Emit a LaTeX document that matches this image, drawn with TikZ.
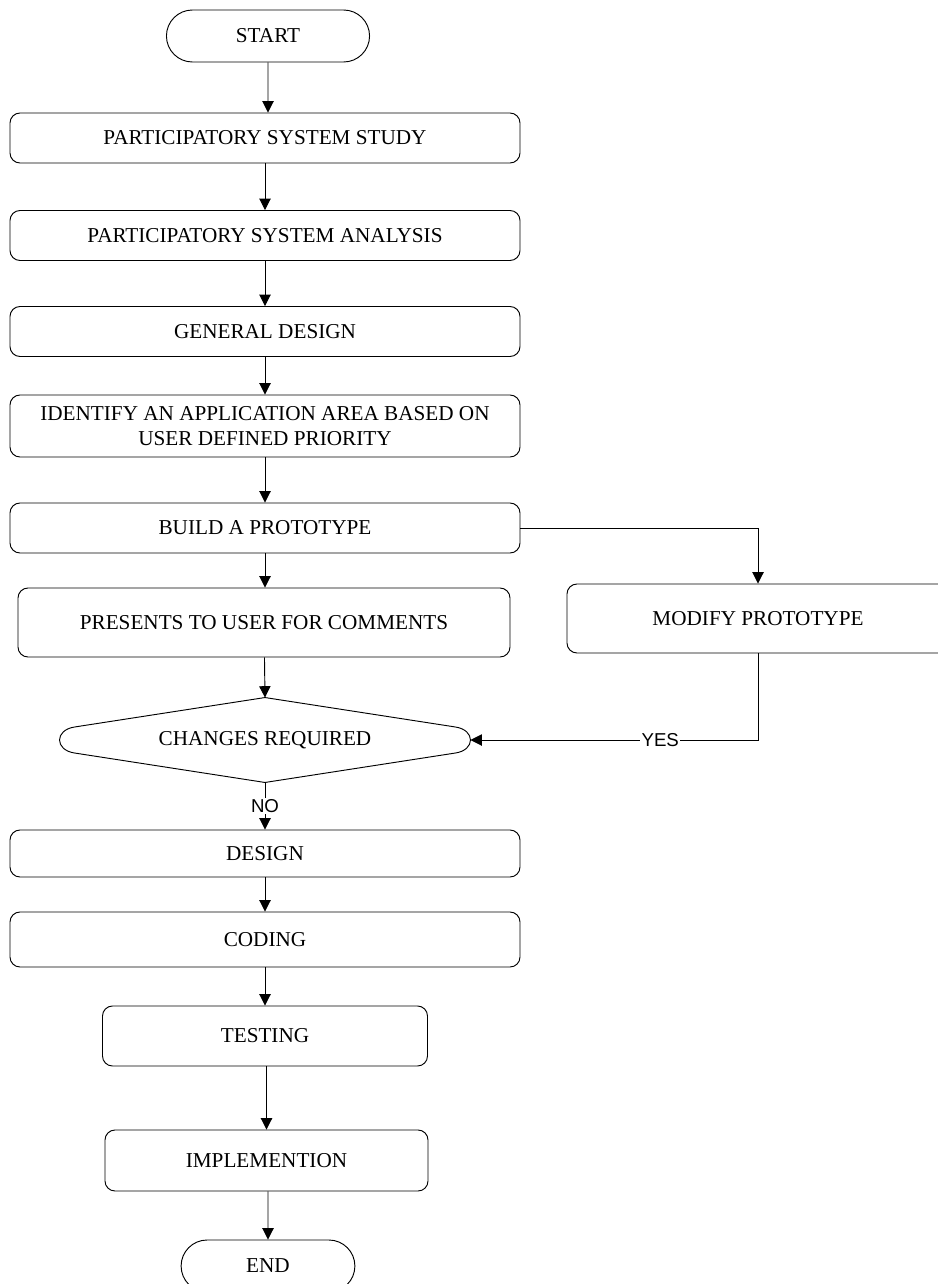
\documentclass[tikz,border=0pt]{standalone}
\usepackage{fontspec}
\setmainfont{Liberation Serif}
\newfontfamily\yesnofont{Liberation Sans}
\usetikzlibrary{arrows.meta,shapes.misc,calc}

\tikzset{
  procbox/.style={draw, rounded corners=7.5pt, align=center, inner sep=2pt,
    font=\fontsize{15.9}{18.5}\selectfont},
  termbox/.style={draw, rounded rectangle, minimum height=39pt,
    font=\fontsize{15.9}{18.5}\selectfont},
  flowline/.style={-{Triangle[length=8.5pt,width=8.5pt]}},
  yesno/.style={fill=white, inner sep=1pt, font=\yesnofont\fontsize{14}{16}\selectfont}
}

\begin{document}
\begin{tikzpicture}[x=0.75pt,y=0.75pt,yscale=-1,xscale=1,line width=0.7pt]
        \useasboundingbox (0,0) rectangle (938,1284);

        %Terminal: start
        \node [termbox, minimum width=159pt] (start) at (268,36) {START};
        %Process boxes
        \node [procbox, minimum width=382.5pt, minimum height=37.5pt] (pss) at (265,138) {PARTICIPATORY SYSTEM STUDY};
        \node [procbox, minimum width=382.5pt, minimum height=37.5pt] (psa) at (265,235.5) {PARTICIPATORY SYSTEM ANALYSIS};
        \node [procbox, minimum width=382.5pt, minimum height=37.5pt] (gd) at (265,331.5) {GENERAL DESIGN};
        \node [procbox, minimum width=382.5pt, minimum height=46.5pt] (ident) at (265,426) {IDENTIFY AN APPLICATION AREA BASED ON\\USER DEFINED PRIORITY};
        \node [procbox, minimum width=382.5pt, minimum height=37.5pt] (build) at (265,528) {BUILD A PROTOTYPE};
        \node [procbox, minimum width=369pt, minimum height=51.75pt] (pres) at (264,622.5) {PRESENTS TO USER FOR COMMENTS};
        \node [procbox, minimum width=286.5pt, minimum height=51.75pt] (modify) at (758,618.5) {MODIFY PROTOTYPE};

        %Decision: text node, outline drawn below
        \node [minimum width=307.5pt, minimum height=63pt, font=\fontsize{15.9}{18.5}\selectfont] (dec) at (265,740) {CHANGES REQUIRED};
        \draw (dec.north) -- ($(dec.west)+(15,-13)$) .. controls ($(dec.west)+(-5,-10)$) and ($(dec.west)+(-5,10)$) .. ($(dec.west)+(15,13)$)
              -- (dec.south) -- ($(dec.east)+(-15,13)$) .. controls ($(dec.east)+(5,10)$) and ($(dec.east)+(5,-10)$) .. ($(dec.east)+(-15,-13)$) -- cycle ;

        \node [procbox, minimum width=382.5pt, minimum height=35.25pt] (design) at (265,853.5) {DESIGN};
        \node [procbox, minimum width=382.5pt, minimum height=41.25pt] (coding) at (265,939.5) {CODING};
        \node [procbox, minimum width=243.75pt, minimum height=45pt] (testing) at (265,1036) {TESTING};
        \node [procbox, minimum width=242.25pt, minimum height=45.75pt] (impl) at (266.5,1160.5) {IMPLEMENTION};
        %Terminal: end
        \node [termbox, minimum width=137pt] (end) at (268,1266) {END};

        %Connectors
        \draw [flowline] (start) -- (start |- pss.north) ;
        \draw [flowline] (pss) -- (psa) ;
        \draw [flowline] (psa) -- (gd) ;
        \draw [flowline] (gd) -- (ident) ;
        \draw [flowline] (ident) -- (build) ;
        \draw [flowline] (build) -- (build |- pres.north) ;
        \draw [flowline] (build.east) -| (modify.north) ;
        \draw [flowline] (pres) -- (dec.north) ;
        \draw [flowline] (modify.south) |- node [pos=0.67, yesno] {YES} (dec.east) ;
        \draw [flowline] (dec.south) -- node [yesno] {NO} (design.north) ;
        \draw [flowline] (design) -- (coding) ;
        \draw [flowline] (coding) -- (testing) ;
        \draw [flowline] (impl |- testing.south) -- (impl) ;
        \draw [flowline] (end |- impl.south) -- (end) ;
    \end{tikzpicture}
\end{document}
